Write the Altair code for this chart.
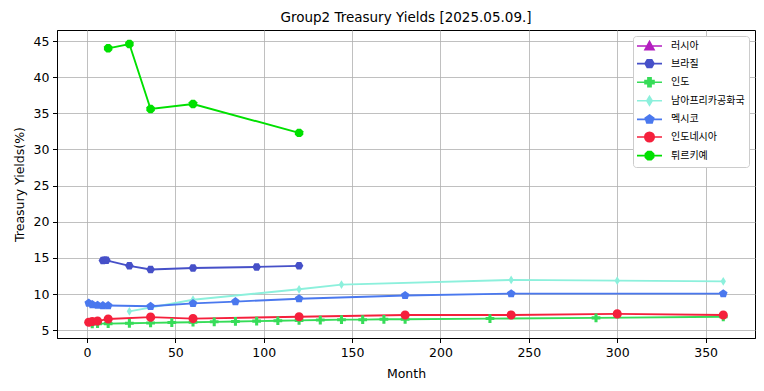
import altair as alt
import pandas as pd

# ---- data ----
series_names = ['러시아', '브라질', '인도', '남아프리카공화국', '멕시코', '인도네시아', '튀르키예']

russia_months = []
russia_yields = []
brazil_months = [9, 10, 11, 24, 36, 60, 96, 120]
brazil_yields = [14.65, 14.68, 14.66, 13.9, 13.4, 13.6, 13.75, 13.9]
india_months = [3, 6, 12, 24, 36, 48, 60, 72, 84, 96, 108, 120, 132, 144, 156, 168, 180, 228, 288, 360]
india_yields = [5.85, 5.9, 5.9, 5.95, 6.0, 6.05, 6.1, 6.15, 6.2, 6.25, 6.3, 6.35, 6.4, 6.45, 6.45, 6.5, 6.5, 6.6, 6.7, 6.85]
sa_months = [24, 60, 120, 144, 240, 300, 360]
sa_yields = [7.6, 9.2, 10.65, 11.3, 11.95, 11.85, 11.75]
mexico_months = [1, 3, 6, 9, 12, 36, 60, 84, 120, 180, 240, 360]
mexico_yields = [8.75, 8.55, 8.45, 8.4, 8.4, 8.3, 8.7, 8.95, 9.35, 9.8, 10.05, 10.05]
indonesia_months = [1, 3, 6, 12, 36, 60, 120, 180, 240, 300, 360]
indonesia_yields = [6.1, 6.2, 6.25, 6.55, 6.8, 6.6, 6.85, 7.1, 7.1, 7.25, 7.1]
turkey_months = [12, 24, 36, 60, 120]
turkey_yields = [44.0, 44.6, 35.6, 36.3, 32.3]

x_ticks = [0, 50, 100, 150, 200, 250, 300, 350]
y_ticks = [5, 10, 15, 20, 25, 30, 35, 40, 45]

# ---- styles ----
colors = ['#b41ec0', '#4650c8', '#36dc58', '#8cf0dc', '#4a78ee', '#f5203c', '#00e000']
sizes = [72, 85, 75, 130, 78, 110, 85]

tri = [(0, -1), (1, 0.8), (-1, 0.8)]
hexa = [(1, 0), (0.5, 0.87), (-0.5, 0.87), (-1, 0), (-0.5, -0.87), (0.5, -0.87)]
plus = [(-0.35, -1), (0.35, -1), (0.35, -0.35), (1, -0.35), (1, 0.35), (0.35, 0.35), (0.35, 1),
        (-0.35, 1), (-0.35, 0.35), (-1, 0.35), (-1, -0.35), (-0.35, -0.35)]
dia = [(0, -1), (0.6, 0), (0, 1), (-0.6, 0)]
pent = [(0, -1), (0.95, -0.31), (0.59, 0.81), (-0.59, 0.81), (-0.95, -0.31)]
octa = [(0.38, -0.92), (0.92, -0.38), (0.92, 0.38), (0.38, 0.92), (-0.38, 0.92), (-0.92, 0.38),
        (-0.92, -0.38), (-0.38, -0.92)]


def poly(pts, k=1.0):
    return 'M' + 'L'.join(f'{round(a * k, 3)},{round(b * k, 3)}' for a, b in pts) + 'Z'


def circle(r):
    return f'M{r},0A{r},{r} 0 1,1 {-r},0A{r},{r} 0 1,1 {r},0Z'


shapes = [tri, hexa, plus, dia, pent, None, octa]
plot_paths = [poly(s) if s is not None else circle(1) for s in shapes]

# legend symbols: a line through a marker, the marker filled by concentric outlines
ring_scales = [0.9, 0.74, 0.58, 0.42, 0.26, 0.1]
legend_paths = []
for s in shapes:
    if s is None:
        body = ''.join(circle(round(1.05 * k, 3)) for k in ring_scales)
    else:
        body = ''.join(poly(s, k) for k in ring_scales)
    legend_paths.append('M-2.5,0H2.5' + body)

rows = []
for name, ms, ys in zip(series_names,
                        [russia_months, brazil_months, india_months, sa_months, mexico_months, indonesia_months, turkey_months],
                        [russia_yields, brazil_yields, india_yields, sa_yields, mexico_yields, indonesia_yields, turkey_yields]):
    for m, v in zip(ms, ys):
        rows.append({'series': name, 'month': m, 'yield': v})
df = pd.DataFrame(rows)

xmin, xmax = df['month'].min(), df['month'].max()
ymin, ymax = df['yield'].min(), df['yield'].max()
xm = (xmax - xmin) * 0.05
ym = (ymax - ymin) * 0.05

x = alt.X('month:Q', scale=alt.Scale(domain=[xmin - xm, xmax + xm], nice=False, zero=False),
          axis=alt.Axis(values=x_ticks, title='Month'))
y = alt.Y('yield:Q', scale=alt.Scale(domain=[ymin - ym, ymax + ym], nice=False, zero=False),
          axis=alt.Axis(values=y_ticks, title='Treasury Yields(%)'))

color_scale = alt.Scale(domain=series_names, range=colors)

lines = alt.Chart(df).mark_line(strokeWidth=1.9).encode(
    x=x, y=y,
    color=alt.Color('series:N', scale=color_scale, legend=None),
    detail='series:N',
)

points = alt.Chart(df).mark_point(filled=True, opacity=1).encode(
    x=x, y=y,
    color=alt.Color('series:N', scale=color_scale, legend=None),
    shape=alt.Shape('series:N', scale=alt.Scale(domain=series_names, range=plot_paths), legend=None),
    size=alt.Size('series:N', scale=alt.Scale(domain=series_names, range=sizes), legend=None),
)

leg = alt.Legend(title=None, orient='top-right', offset=6, fillColor='white', strokeColor='#cccccc',
                 cornerRadius=3, padding=4, symbolSize=100, symbolStrokeWidth=1.6, symbolOffset=6.5,
                 labelOffset=15.5, labelFontSize=10, labelFont='Noto Sans CJK KR', labelColor='black',
                 rowPadding=2.6, labelLimit=300)

legend_layer = alt.Chart(df).transform_filter('false').mark_point(filled=False, opacity=1).encode(
    color=alt.Color('series:N', scale=alt.Scale(domain=series_names, range=colors), legend=leg),
    shape=alt.Shape('series:N', scale=alt.Scale(domain=series_names, range=legend_paths), legend=leg),
)

chart = alt.layer(lines, points, legend_layer).resolve_scale(
    shape='independent', color='independent'
).properties(
    width=698, height=308,
    title='Group2 Treasury Yields [2025.05.09.]',
    autosize=alt.AutoSizeParams(type='none'),
    padding={'left': 49, 'top': 22, 'right': 1, 'bottom': 45},
).configure_view(stroke='black', strokeWidth=1).configure_axis(
    grid=True, gridColor='#b0b0b0', gridWidth=0.8,
    domainColor='black', domainWidth=1, tickColor='black', tickSize=4.5, tickWidth=1,
    labelFont='DejaVu Sans', labelFontSize=12.5, labelColor='black', labelPadding=3.5,
    titleFont='DejaVu Sans', titleFontSize=12.5, titleFontWeight='normal', titleColor='black',
).configure_axisX(titlePadding=9).configure_axisY(titlePadding=7).configure_title(
    font='DejaVu Sans', fontSize=13.5, fontWeight='normal', color='black', offset=6, anchor='middle'
)

chart.save('out.html', embed_options={'renderer': 'svg', 'actions': False})
